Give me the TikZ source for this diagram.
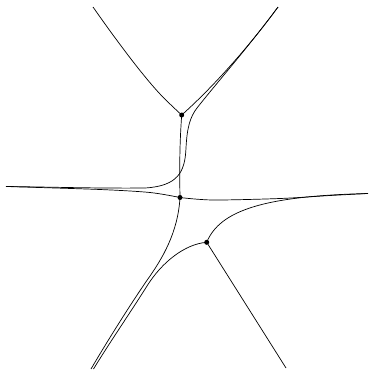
\documentclass[tikz,border=0pt]{standalone}
\begin{document}
\begin{tikzpicture}[x=1pt,y=-1pt,
  curve/.style={line width=0.7pt,black},
  dot/.style={circle,fill=black,inner sep=0pt,minimum size=5pt}]
\useasboundingbox (0,0) rectangle (369,376);
\coordinate (A) at (181.7,115);
\coordinate (B) at (180,197.5);
\coordinate (C) at (206.7,242.3);
\coordinate (UL) at (93,7);
\coordinate (UR) at (278,7);
\coordinate (L) at (6,186.5);
\coordinate (R) at (368,193.5);
\coordinate (BL1) at (91,369);
\coordinate (BL2) at (93.5,369);
\coordinate (BR) at (286,368);
% upper-left branch into A
\draw[curve] plot[smooth,tension=0.6] coordinates {(UL) (113,35) (138,68) (160,94) (A)};
% A to upper right
\draw[curve] (A) .. controls (212,88) and (248,48) .. (UR);
% inner curve: upper right down and round to the left end
\draw[curve] (UR) .. controls (250,45) and (215,85) .. (197,108)
  .. controls (190,117) and (187,128) .. (186,148)
  .. controls (185,172) and (178,186) .. (145,188)
  .. controls (100,188.5) and (50,187) .. (L);
% A to B
\draw[curve] (A) .. controls (179.5,145) and (179.5,170) .. (B);
% B down to lower left
\draw[curve] (B) .. controls (178,232) and (163,258) .. (146.5,281)
  .. controls (128,308) and (105,345) .. (BL1);
% left horizontal into B
\draw[curve] plot[smooth,tension=0.5] coordinates {(L) (100,189.5) (150,192.5) (B)};
% B to right end
\draw[curve] plot[smooth,tension=0.5] coordinates {(B) (213,200) (280,198.5) (330,195.5) (R)};
% right end down to C
\draw[curve] (R) .. controls (265,196) and (220,210) .. (C);
% C to lower right
\draw[curve] (C) -- (BR);
% C curve to lower left
\draw[curve] (C) .. controls (185,244) and (162,262) .. (147,286)
  .. controls (130,313) and (110,342) .. (BL2);
\node[dot] at (A) {};
\node[dot] at (B) {};
\node[dot] at (C) {};
\end{tikzpicture}
\end{document}
